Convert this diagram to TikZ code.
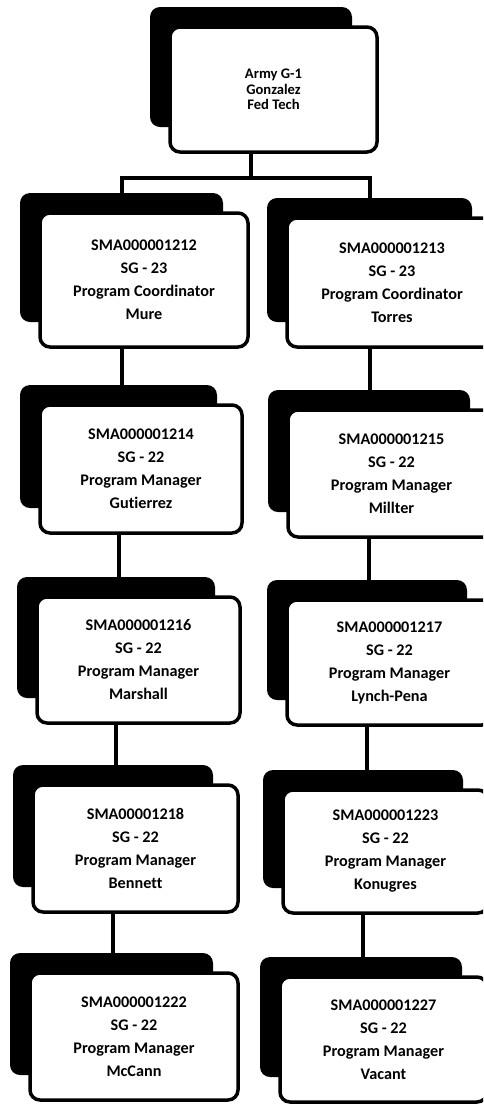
\documentclass[tikz,border=0pt]{standalone}
\usepackage{fontspec}
\setmainfont{Carlito}[Ligatures={NoCommon}]
% #1 name, #2 left, #3 top, #4 right, #5 bottom, #6 text, #7 extra style
\newcommand\chartbox[7]{%
  \node[shadowbox, minimum width={(#4-#2-5)*0.5pt}, minimum height={(#5-#3-5)*0.5pt}]
    (#1s) at ({(#2+#4)/2-22.5},{(#3+#5)/2-22.5}) {};
  \node[frontbox, #7, minimum width={(#4-#2)*0.5pt}, minimum height={(#5-#3)*0.5pt}]
    (#1) at ({(#2+#4)/2},{(#3+#5)/2}) {#6};
}
\begin{document}
\begin{tikzpicture}[x=0.5pt,y=-0.5pt,
  shadowbox/.style={fill=black, rounded corners=5pt, inner sep=0pt, outer sep=0pt},
  frontbox/.style={draw=black, fill=white, line width=1.75pt, rounded corners=5pt,
    align=center, inner sep=0pt, outer sep=0pt,
    font=\fontsize{8.1}{11.5}\selectfont\bfseries},
  topfont/.style={font=\fontsize{7.3}{7.8}\selectfont\bfseries},
  conn/.style={line width=2pt}]
\useasboundingbox (0,0) rectangle (483,1104);
\clip (0,0) rectangle (483,1104);

% head of the chart
\chartbox{top}{170}{27}{377}{152}{Army G-1\\Gonzalez\\Fed Tech}{topfont}

% left column
\chartbox{L1}{40}{213}{248}{347}{SMA000001212\\SG - 23\\Program Coordinator\\Mure}{}
\chartbox{L2}{40}{405}{242}{533}{SMA000001214\\SG - 22\\Program Manager\\Gutierrez}{}
\chartbox{L3}{37}{597}{240}{723}{SMA000001216\\SG - 22\\Program Manager\\Marshall}{}
\chartbox{L4}{33}{785}{238}{912}{SMA00001218\\SG - 22\\Program Manager\\Bennett}{}
\chartbox{L5}{30}{973}{238}{1100}{SMA000001222\\SG - 22\\Program Manager\\McCann}{}

% right column
\chartbox{R1}{287}{218}{497}{347}{SMA000001213\\SG - 23\\Program Coordinator\\Torres}{}
\chartbox{R2}{288}{410}{495}{537}{SMA000001215\\SG - 22\\Program Manager\\Millter}{}
\chartbox{R3}{287}{600}{492}{725}{SMA000001217\\SG - 22\\Program Manager\\Lynch-Pena}{}
\chartbox{R4}{283}{790}{488}{913}{SMA000001223\\SG - 22\\Program Manager\\Konugres}{}
\chartbox{R5}{280}{977}{487}{1102}{SMA000001227\\SG - 22\\Program Manager\\Vacant}{}

% branch from the head to both columns
\path (tops.south) ++(0,51) coordinate (bar);
\draw[conn] (top.south -| tops.south) -- (bar);
\draw[conn] (L1s.north) |- (bar) -| (R1s.north);

% links down each column
\foreach \a/\b in {L1/L2, L2/L3, L3/L4, L4/L5, R1/R2, R2/R3, R3/R4, R4/R5}
  \draw[conn] (\a.south -| \a s.south) -- (\a s.south |- \b s.north);
\end{tikzpicture}
\end{document}
